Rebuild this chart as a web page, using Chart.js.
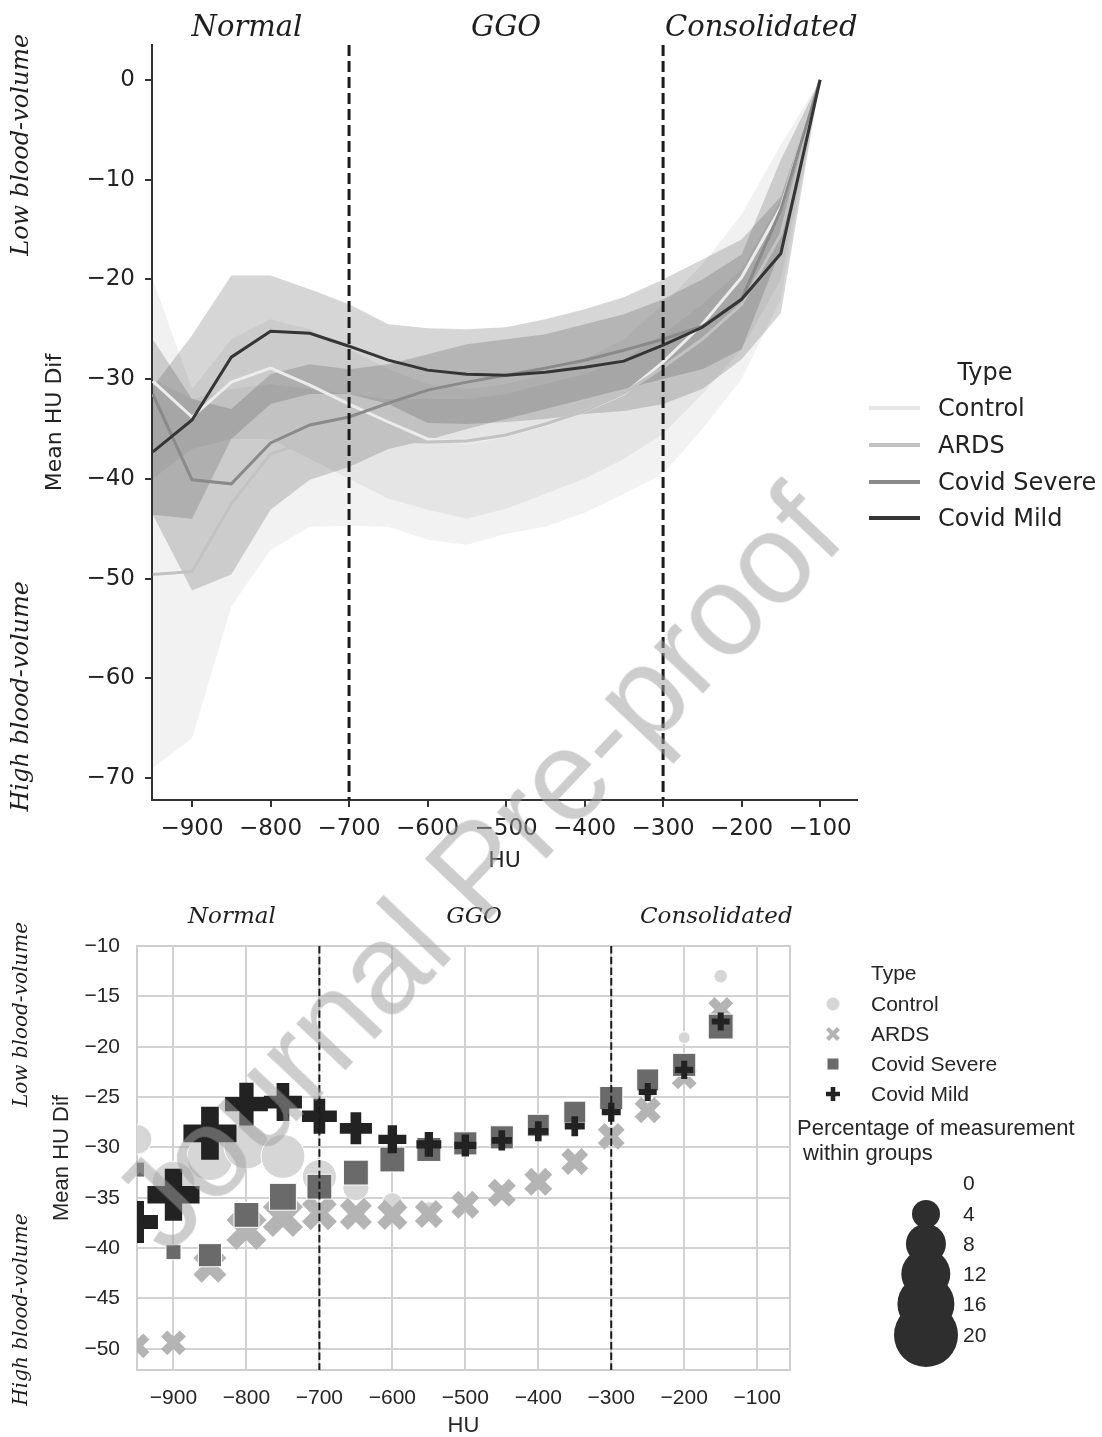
<!DOCTYPE html>
<html>
<head>
<meta charset="utf-8">
<script src="https://cdn.jsdelivr.net/npm/chart.js@4.4.0/dist/chart.umd.min.js"></script>
<style>
  body { margin: 0; background: #fff; width: 1102px; height: 1437px; position: relative; overflow: hidden; }
  #topChart { position: absolute; left: 0; top: 0; }
  #bottomChart { position: absolute; left: 0; top: 880px; }
  .lab { position: absolute; white-space: nowrap; color: #222; transform: translateY(-50%); }
  .top-lab { font: 24px "DejaVu Sans"; }
  .bot-lab { font: 21px "Liberation Sans"; color: #262626; }
  .bot-title { font: 22px "Liberation Sans"; color: #262626; }
  .swatch { position: absolute; height: 4px; width: 51px; transform: translateY(-50%); }
  .bubble { position: absolute; border-radius: 50%; background: #2e2e2e; transform: translate(-50%, -50%); }
  #watermark {
    position: absolute; left: 476px; top: 868px; white-space: nowrap;
    font: 128px "Liberation Sans"; color: rgba(160, 160, 160, 0.52);
    transform: translate(-50%, -50%) rotate(-46.5deg); pointer-events: none;
  }
</style>
</head>
<body>
<canvas id="topChart" width="1102" height="880"></canvas>
<canvas id="bottomChart" width="1102" height="557"></canvas>
<div id="legends"></div>
<div id="watermark">Journal Pre-proof</div>

<script>
// HU bins and groups
const huBins = [-950, -900, -850, -800, -750, -700, -650, -600, -550, -500, -450, -400, -350, -300, -250, -200, -150, -100];
const groups = ['Control', 'ARDS', 'Covid Severe', 'Covid Mild'];

// top panel: mean HU difference per group
const controlMean = [-30.2, -33.8, -30.3, -28.9, -30.6, -32.5, -34.3, -36.0, -36.4, -35.7, -34.6, -33.2, -31.5, -28.3, -24.5, -19.8, -12.8, 0];
const ardsMean    = [-49.6, -49.3, -42.5, -37.5, -36.2, -36.0, -36.2, -36.3, -36.2, -35.6, -34.5, -33.2, -31.4, -28.8, -26.0, -22.5, -15.5, 0];
const severeMean  = [-31.5, -40.1, -40.5, -36.4, -34.6, -33.8, -32.4, -31.1, -30.3, -29.6, -28.9, -28.1, -27.1, -26.0, -24.7, -22.0, -13.0, 0];
const mildMean    = [-37.3, -34.1, -27.8, -25.2, -25.4, -26.7, -28.1, -29.1, -29.5, -29.6, -29.3, -28.8, -28.2, -26.6, -24.8, -22.0, -17.4, 0];

// top panel: confidence bands
const controlUpper = [-20.0, -31.0, -26.0, -24.0, -25.0, -27.0, -29.0, -30.5, -31.0, -30.5, -29.5, -28.0, -26.0, -22.5, -18.5, -13.5, -6.5, 0];
const controlLower = [-40.0, -37.0, -36.0, -36.0, -38.0, -40.0, -42.0, -43.1, -44.0, -43.0, -41.5, -40.0, -38.0, -35.5, -31.5, -27.0, -20.0, 0];
const ardsUpper    = [-30.0, -32.0, -31.0, -30.5, -31.0, -31.5, -32.0, -32.0, -32.0, -31.5, -30.5, -29.5, -28.0, -25.5, -22.5, -19.0, -12.0, 0];
const ardsLower    = [-69.0, -66.0, -52.8, -47.1, -44.8, -44.7, -44.8, -46.1, -46.6, -45.5, -44.8, -43.4, -41.5, -39.5, -35.0, -30.0, -22.0, 0];
const severeUpper  = [-26.0, -32.0, -33.0, -29.5, -28.5, -29.0, -28.5, -27.5, -26.5, -26.0, -25.5, -24.5, -23.5, -22.0, -20.0, -17.5, -8.0, 0];
const severeLower  = [-43.6, -51.2, -49.6, -43.1, -40.1, -38.8, -37.0, -36.1, -35.0, -34.0, -33.0, -32.0, -31.0, -30.0, -29.0, -27.0, -17.0, 0];
const mildUpper    = [-30.8, -25.6, -19.6, -19.6, -21.0, -22.5, -24.5, -24.9, -25.0, -24.8, -24.0, -23.0, -21.8, -20.0, -18.0, -16.0, -11.7, 0];
const mildLower    = [-43.6, -44.0, -36.0, -32.5, -31.5, -31.5, -32.5, -34.4, -34.5, -34.3, -34.0, -33.5, -33.2, -32.5, -31.0, -28.0, -23.4, 0];

const topXTicks = [-900, -800, -700, -600, -500, -400, -300, -200, -100];
const topYTicks = [0, -10, -20, -30, -40, -50, -60, -70];

// bottom panel: mean per bin and percentage of measurements (marker size)
const scatterBins   = [-950, -900, -850, -800, -750, -700, -650, -600, -550, -500, -450, -400, -350, -300, -250, -200, -150];
const controlPoints = [-29.2, -33.5, -31.0, -29.9, -30.9, -32.9, -34.0, -35.5, -36.2, -35.6, -34.6, -33.3, -31.5, -28.5, -24.6, -19.1, -13.0];
const controlPct    = [4.5, 9, 10.5, 10, 9.5, 5.8, 3.5, 2.2, 1.5, 1.2, 1, 1, 1, 1, 1, 0.9, 1.1];
const ardsPoints    = [-49.7, -49.4, -41.8, -38.2, -36.9, -36.5, -36.6, -36.7, -36.6, -35.7, -34.5, -33.4, -31.4, -28.9, -26.3, -23.0, -16.3];
const ardsPct       = [3.2, 3.2, 5.5, 8, 8, 6.1, 5.2, 4.6, 4, 4, 4, 4, 3.7, 3.7, 3.5, 3.2, 3.2];
const severePoints  = [-32.2, -40.4, -40.7, -36.7, -34.9, -33.9, -32.5, -31.2, -30.2, -29.6, -29.0, -27.8, -26.5, -25.1, -23.3, -21.8, -18.0];
const severePct     = [1.3, 1.3, 2.8, 3.2, 3.7, 3.2, 3.2, 3.2, 3, 2.8, 2.8, 2.55, 2.55, 2.8, 2.55, 2.8, 3.2];
const mildPoints    = [-37.4, -34.7, -28.6, -25.7, -25.5, -26.9, -28.1, -29.2, -29.7, -29.8, -29.3, -28.4, -27.9, -26.5, -24.5, -22.3, -17.5];
const mildPct       = [8.7, 13.3, 13.8, 9.1, 7.2, 6.1, 5.2, 4, 3.2, 2.55, 2.15, 2.15, 2.15, 1.95, 1.78, 1.78, 1.78];

const bottomXTicks = [-900, -800, -700, -600, -500, -400, -300, -200, -100];
const bottomYTicks = [-10, -15, -20, -25, -30, -35, -40, -45, -50];
const sizeLegend = [0, 4, 8, 12, 16, 20];

const regionNames = ['Normal', 'GGO', 'Consolidated'];
const regionBounds = [-700, -300];

const fmt = v => (v < 0 ? '\u2212' + Math.abs(v) : String(v));
const toPts = (xs, ys) => ys.map((v, i) => ({ x: xs[i], y: v }));

// half extent of a marker for a given percentage (area grows linearly)
const markerHalf = p => (p <= 0 ? 0 : Math.sqrt(Math.max(4, 51.75 * p - 11)));

// shared drawing of dashed region bounds, region names and side labels
const annotate = {
  id: 'annotate',
  beforeDatasetsDraw(chart, args, o) {
    if (!o.box) return;
    const { ctx, chartArea: a } = chart;
    ctx.save();
    ctx.strokeStyle = '#cfcfcf';
    ctx.lineWidth = 2;
    ctx.strokeRect(a.left, a.top, a.right - a.left, a.bottom - a.top);
    ctx.restore();
  },
  afterDatasetsDraw(chart, args, o) {
    const { ctx, chartArea: a, scales: { x, y } } = chart;
    ctx.save();
    ctx.strokeStyle = '#1b1b1b';
    ctx.lineWidth = o.dashWidth;
    ctx.setLineDash(o.dash);
    regionBounds.forEach(v => {
      const px = x.getPixelForValue(v);
      ctx.beginPath();
      ctx.moveTo(px, a.top);
      ctx.lineTo(px, a.bottom);
      ctx.stroke();
    });
    ctx.setLineDash([]);
    ctx.fillStyle = '#1e1e1e';
    ctx.textAlign = 'center';
    ctx.textBaseline = 'middle';
    ctx.font = o.regionFont;
    regionNames.forEach((t, i) => ctx.fillText(t, x.getPixelForValue(o.regionCenters[i]), o.regionY));
    ctx.font = o.sideFont;
    o.sideLabels.forEach((t, i) => {
      ctx.save();
      ctx.translate(22, y.getPixelForValue(o.sideValues[i]));
      ctx.rotate(-Math.PI / 2);
      ctx.fillText(t, 0, 0);
      ctx.restore();
    });
    ctx.restore();
  }
};

// ---------- top panel ----------
const lineColors = ['#ececec', '#c2c2c2', '#8a8a8a', '#353535'];
const bandColors = ['rgba(150,150,150,0.13)', 'rgba(150,150,150,0.12)', 'rgba(90,90,90,0.25)', 'rgba(70,70,70,0.22)'];
const means = [controlMean, ardsMean, severeMean, mildMean];
const uppers = [controlUpper, ardsUpper, severeUpper, mildUpper];
const lowers = [controlLower, ardsLower, severeLower, mildLower];

const topSets = [];
uppers.forEach((up, g) => {
  topSets.push({ data: toPts(huBins, up), fill: '+1', backgroundColor: bandColors[g], borderColor: 'rgba(0,0,0,0)', borderWidth: 0, pointRadius: 0, order: 20 - g });
  topSets.push({ data: toPts(huBins, lowers[g]), fill: false, borderColor: 'rgba(0,0,0,0)', borderWidth: 0, pointRadius: 0, order: 20 - g });
});
means.forEach((m, g) => {
  topSets.push({ label: groups[g], data: toPts(huBins, m), borderColor: lineColors[g], borderWidth: 3, pointRadius: 0, fill: false, tension: 0, order: 4 - g });
});

const topFont = { family: 'DejaVu Sans', size: 23 };

new Chart(document.getElementById('topChart'), {
  type: 'line',
  data: { datasets: topSets },
  plugins: [annotate],
  options: {
    responsive: false,
    animation: false,
    events: [],
    layout: { padding: { top: 45, right: 245, left: 0, bottom: 0 } },
    plugins: {
      legend: { display: false },
      tooltip: { enabled: false },
      filler: { drawTime: 'beforeDatasetsDraw' },
      annotate: {
        dash: [11, 5], dashWidth: 3,
        regionFont: 'italic 29px "DejaVu Serif"', regionY: 28, regionCenters: [-830, -500, -175],
        sideFont: 'italic 24px "DejaVu Serif"',
        sideLabels: ['Low blood-volume', 'High blood-volume'], sideValues: [-6.5, -61.8]
      }
    },
    scales: {
      x: {
        type: 'linear', min: -951, max: -53,
        afterBuildTicks: s => { s.ticks = topXTicks.map(v => ({ value: v })); },
        afterFit: s => { s.height = 80; },
        grid: { display: true, drawOnChartArea: false, drawTicks: true, tickLength: 7, color: '#333', lineWidth: 2 },
        border: { display: true, color: '#333', width: 2 },
        ticks: { font: topFont, color: '#222', padding: 8, maxRotation: 0, autoSkip: false, callback: v => fmt(v) },
        title: { display: true, text: 'HU', font: { family: 'DejaVu Sans', size: 22 }, color: '#222', padding: { top: 0, bottom: 6 } }
      },
      y: {
        type: 'linear', min: -72.2, max: 3.5,
        afterBuildTicks: s => { s.ticks = topYTicks.map(v => ({ value: v })); },
        afterFit: s => { s.width = 152; },
        grid: { display: true, drawOnChartArea: false, drawTicks: true, tickLength: 7, color: '#333', lineWidth: 2 },
        border: { display: true, color: '#333', width: 2 },
        ticks: { font: topFont, color: '#222', padding: 10, autoSkip: false, callback: v => fmt(v) },
        title: { display: true, text: 'Mean HU Dif', font: { family: 'DejaVu Sans', size: 22 }, color: '#222', padding: { top: 42, bottom: 0 } }
      }
    }
  }
});

// ---------- bottom panel ----------
const markColors = ['#d6d6d6', '#b4b4b4', '#6a6a6a', '#222222'];
const pointSets = [controlPoints, ardsPoints, severePoints, mildPoints];
const pctSets = [controlPct, ardsPct, severePct, mildPct];
const styles = ['circle', 'crossRot', 'rect', 'cross'];

function radiusFor(style, p) {
  const h = markerHalf(p);
  if (style === 'rect') return h * Math.SQRT2;
  if (style === 'crossRot') return h * 1.06;
  return h;
}
function borderFor(style, p) {
  const h = markerHalf(p);
  if (style === 'cross') return h * 2 / 3;
  if (style === 'crossRot') return h * 0.707;
  return 1;
}

const bottomSets = pointSets.map((pts, g) => {
  const st = styles[g];
  const pct = pctSets[g];
  const stroked = st === 'cross' || st === 'crossRot';
  return {
    label: groups[g],
    data: toPts(scatterBins, pts),
    pointStyle: st,
    pointBackgroundColor: markColors[g],
    pointBorderColor: stroked ? markColors[g] : '#ffffff',
    pointRadius: c => radiusFor(st, pct[c.dataIndex]),
    pointBorderWidth: c => borderFor(st, pct[c.dataIndex]),
    clip: 0,
    order: 4 - g
  };
});

const botFont = { family: 'Liberation Sans', size: 21 };
const botTitleFont = { family: 'Liberation Sans', size: 22, lineHeight: 1 };

new Chart(document.getElementById('bottomChart'), {
  type: 'scatter',
  data: { datasets: bottomSets },
  plugins: [annotate],
  options: {
    responsive: false,
    animation: false,
    events: [],
    layout: { padding: { top: 66, right: 312, left: 0, bottom: 0 } },
    plugins: {
      legend: { display: false },
      tooltip: { enabled: false },
      annotate: {
        box: true,
        dash: [7.5, 3.2], dashWidth: 2,
        regionFont: 'italic 23px "DejaVu Serif"', regionY: 37, regionCenters: [-820, -488, -156],
        sideFont: 'italic 20px "DejaVu Serif"',
        sideLabels: ['Low blood-volume', 'High blood-volume'], sideValues: [-16.8, -46.1]
      }
    },
    scales: {
      x: {
        type: 'linear', min: -950, max: -55,
        afterBuildTicks: s => { s.ticks = bottomXTicks.map(v => ({ value: v })); },
        afterFit: s => { s.height = 67; },
        grid: { display: true, drawOnChartArea: true, drawTicks: false, color: '#d2d2d2', lineWidth: 2 },
        border: { display: false },
        ticks: { font: botFont, color: '#262626', padding: 16, maxRotation: 0, autoSkip: false, callback: v => fmt(v) },
        title: { display: true, text: 'HU', font: botTitleFont, color: '#262626', padding: { top: 0, bottom: 0 } }
      },
      y: {
        type: 'linear', min: -52.1, max: -10,
        afterBuildTicks: s => { s.ticks = bottomYTicks.map(v => ({ value: v })); },
        afterFit: s => { s.width = 137; },
        grid: { display: true, drawOnChartArea: true, drawTicks: false, color: '#d2d2d2', lineWidth: 2 },
        border: { display: false },
        ticks: { font: botFont, color: '#262626', padding: 17, autoSkip: false, callback: v => fmt(v) },
        title: { display: true, text: 'Mean HU Dif', font: { family: 'Liberation Sans', size: 22 }, color: '#262626', padding: { top: 49, bottom: 0 } }
      }
    }
  }
});

// ---------- legends ----------
const legendBox = document.getElementById('legends');
function addLabel(text, cls, left, top) {
  const d = document.createElement('div');
  d.className = 'lab ' + cls;
  d.textContent = text;
  d.style.left = left + 'px';
  d.style.top = top + 'px';
  legendBox.appendChild(d);
  return d;
}

// top legend: line samples
const typeTop = addLabel('Type', 'top-lab', 985, 372);
typeTop.style.transform = 'translate(-50%, -50%)';
const topRows = [408, 445, 482, 518];
groups.forEach((g, i) => {
  const s = document.createElement('div');
  s.className = 'swatch';
  s.style.left = '869px';
  s.style.top = topRows[i] + 'px';
  s.style.background = i === 0 ? '#e6e6e6' : lineColors[i];
  legendBox.appendChild(s);
  addLabel(g, 'top-lab', 938, topRows[i]);
});

// bottom legend: marker samples
addLabel('Type', 'bot-lab', 871, 973);
const botRows = [1004, 1034, 1064, 1094];
const markerSvg = [
  c => `<circle cx="10" cy="10" r="6.5" fill="${c}"/>`,
  c => `<path d="M4.5 4.5 L15.5 15.5 M15.5 4.5 L4.5 15.5" stroke="${c}" stroke-width="4.2"/>`,
  c => `<rect x="4.5" y="4.5" width="11" height="11" fill="${c}"/>`,
  c => `<path d="M10 3 L10 17 M3 10 L17 10" stroke="${c}" stroke-width="4.6"/>`
];
groups.forEach((g, i) => {
  const m = document.createElement('div');
  m.style.cssText = `position:absolute;left:823px;top:${botRows[i] - 10}px;width:20px;height:20px`;
  m.innerHTML = `<svg width="20" height="20">${markerSvg[i](markColors[i])}</svg>`;
  legendBox.appendChild(m);
  addLabel(g, 'bot-lab', 871, botRows[i]);
});
addLabel('Percentage of measurement', 'bot-title', 797, 1128);
addLabel(' within groups', 'bot-title', 797, 1153).style.whiteSpace = 'pre';

// size legend
const sizeRows = [1183, 1214, 1244, 1274, 1304, 1335];
sizeLegend.forEach((p, i) => {
  const r = markerHalf(p);
  if (r > 0) {
    const b = document.createElement('div');
    b.className = 'bubble';
    b.style.left = '926px';
    b.style.top = sizeRows[i] + 'px';
    b.style.width = (2 * r) + 'px';
    b.style.height = (2 * r) + 'px';
    legendBox.appendChild(b);
  }
  addLabel(String(p), 'bot-lab', 963, sizeRows[i]);
});
</script>
</body>
</html>
